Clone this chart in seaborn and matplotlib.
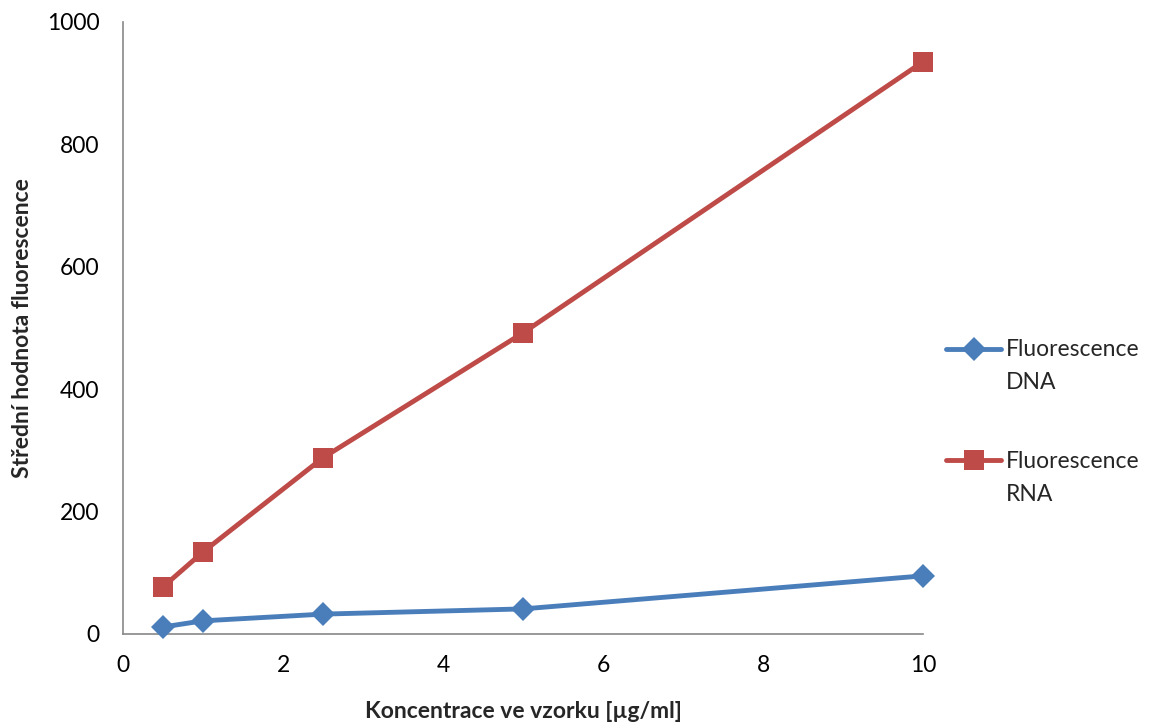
import pandas as pd
import matplotlib
matplotlib.use("Agg")
import matplotlib.pyplot as plt
from matplotlib.legend_handler import HandlerLine2D
import seaborn as sns

sns.set_style("white")
plt.rcParams['font.family'] = ['Lato', 'DejaVu Sans']

# Data
konc = [0.5, 1, 2.5, 5, 10]
dna = [11.5, 21.5, 32.5, 41, 95]
rna = [77, 134, 288, 492, 935]
series_names = ["Fluorescence\nDNA", "Fluorescence\nRNA"]

df = pd.DataFrame({
    "x": konc * 2,
    "y": dna + rna,
    "serie": [series_names[0]] * len(konc) + [series_names[1]] * len(konc),
})


# legend handle lined up with the first text line (as Excel does)
class FirstLineHandler(HandlerLine2D):
    def create_artists(self, legend, orig_handle, xdescent, ydescent,
                       width, height, fontsize, trans):
        arts = super().create_artists(legend, orig_handle, xdescent, ydescent,
                                      width, height, fontsize, trans)
        for a in arts:
            a.set_ydata([v + fontsize * 0.77 for v in a.get_ydata()])
        return arts


fig = plt.figure(figsize=(11.58, 7.22), dpi=100)
ax = fig.add_axes([123 / 1158, 88 / 722, 800 / 1158, 612 / 722])

palette = {series_names[0]: "#4A7EBB", series_names[1]: "#BE4B48"}
markers = {series_names[0]: "D", series_names[1]: "s"}
sizes = {series_names[0]: 12, series_names[1]: 15}

for name in series_names:
    sub = df[df["serie"] == name]
    sns.lineplot(data=sub, x="x", y="y", ax=ax, color=palette[name],
                 marker=markers[name], markersize=sizes[name], markeredgewidth=0,
                 linewidth=3.5, label=name, sort=False, clip_on=False, zorder=3)

ax.set_xlim(0, 10)
ax.set_ylim(0, 1000)
ax.set_xticks(range(0, 11, 2))
ax.set_yticks(range(0, 1001, 200))

for s in ["top", "right"]:
    ax.spines[s].set_visible(False)
for s in ["left", "bottom"]:
    ax.spines[s].set_color("#878787")
    ax.spines[s].set_linewidth(1.2)
ax.tick_params(axis="both", direction="out", length=6, width=1.2, color="#878787",
               labelsize=16.5, labelcolor="black")
ax.tick_params(axis="y", pad=11)
ax.tick_params(axis="x", pad=9)

ax.set_xlabel("Koncentrace ve vzorku [µg/ml]", fontsize=16.5, fontweight="bold", labelpad=18)
ax.set_ylabel("Střední hodnota fluorescence", fontsize=16.5, fontweight="bold", labelpad=10)

leg = ax.legend(loc="upper left", bbox_to_anchor=(946 / 1158, 1 - 339 / 722),
                bbox_transform=fig.transFigure, frameon=False,
                fontsize=16.5, handlelength=2.4, handletextpad=0.2, labelspacing=2.5,
                borderpad=0, borderaxespad=0,
                handler_map={plt.Line2D: FirstLineHandler()})
for t in leg.get_texts():
    t.set_linespacing(1.72)
for line in leg.get_lines():
    line.set_linewidth(3.5)

fig.savefig("out.png", dpi=100)
